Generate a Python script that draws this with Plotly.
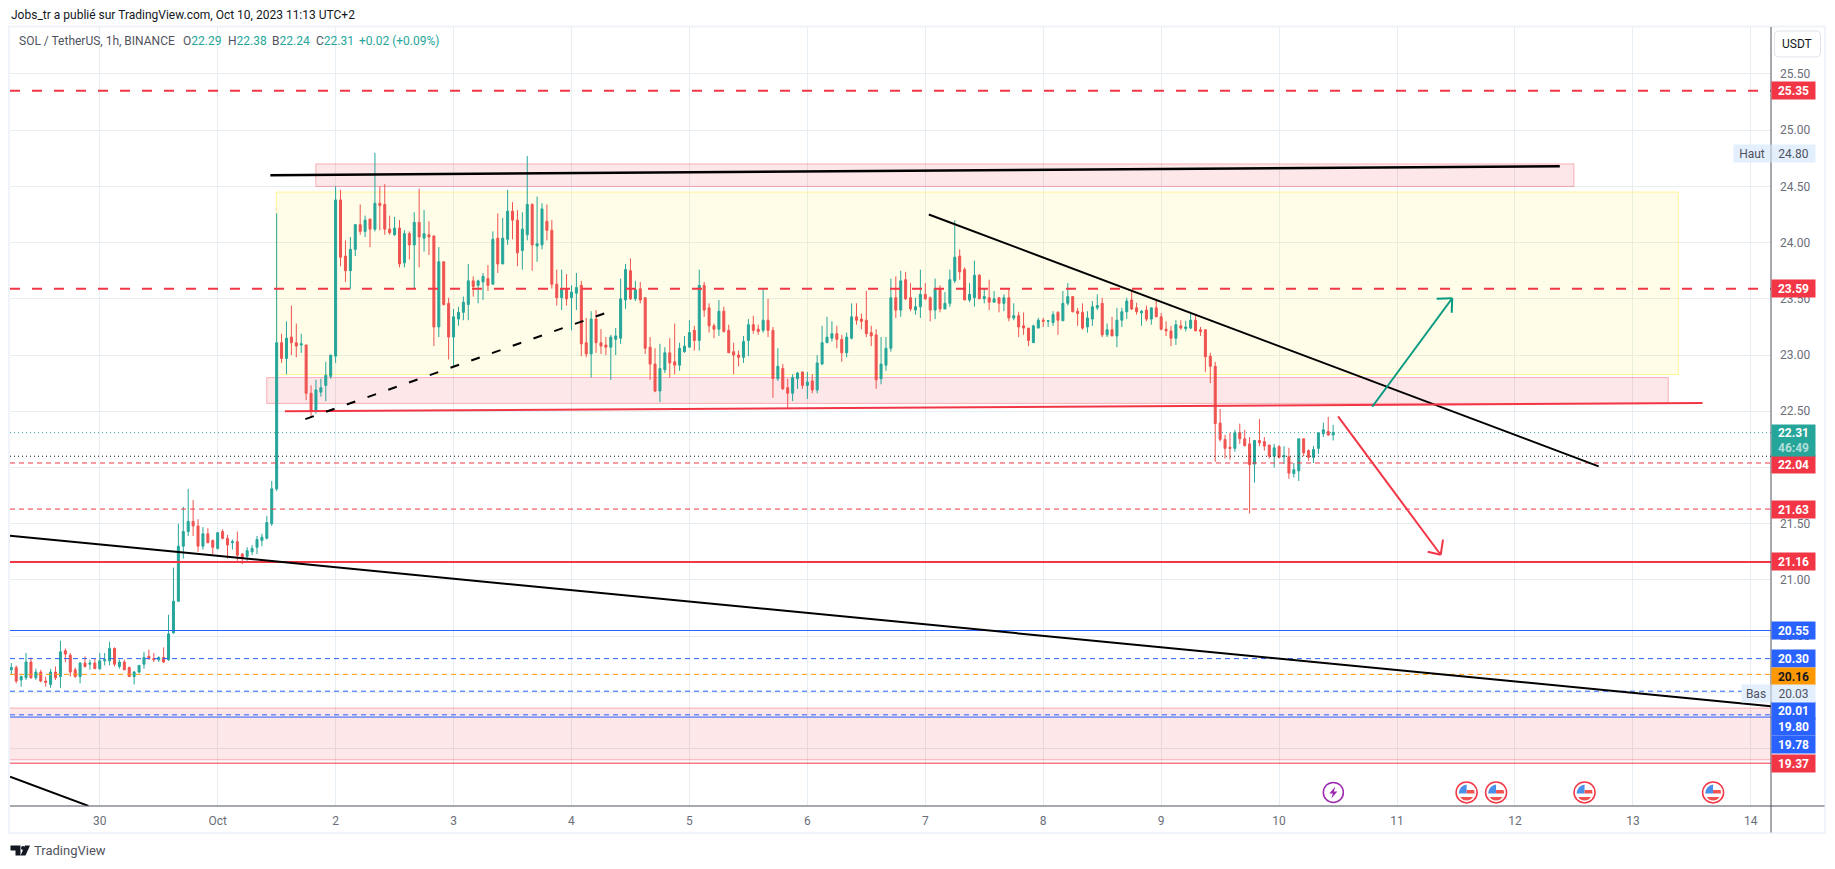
import pandas as pd
import plotly.graph_objects as go

# ---------------------------------------------------------------- data
first_candle = "2023-09-29 06:00"

opens = [
 20.20,20.22,20.11,20.13,20.27,20.13,20.18,20.10,20.07,20.18,
 20.14,20.37,20.33,20.20,20.14,20.26,20.25,20.26,20.21,20.28,
 20.28,20.39,20.23,20.27,20.22,20.14,20.18,20.25,20.32,20.30,
 20.29,20.31,20.29,20.53,20.81,21.30,21.43,21.52,21.48,21.30,
 21.41,21.35,21.28,21.43,21.37,21.33,21.34,21.23,21.21,21.25,
 21.29,21.35,21.37,21.50,21.81,23.11,22.97,23.16,23.11,23.09,
 23.09,22.66,22.51,22.67,22.73,22.81,22.99,24.38,23.88,23.75,
 23.94,24.16,24.10,24.21,24.12,24.35,24.34,24.12,24.07,24.13,
 23.82,24.08,23.98,24.18,24.04,24.07,24.06,23.25,23.83,23.46,
 23.16,23.32,23.38,23.45,23.66,23.62,23.65,23.68,23.63,24.04,
 23.81,24.03,24.28,24.20,23.93,24.07,24.34,23.97,23.98,24.19,
 24.11,23.63,23.51,23.59,23.51,23.55,23.62,23.11,23.01,23.32,
 23.11,23.09,23.07,23.14,23.15,23.49,23.75,23.50,23.59,23.51,
 23.07,22.92,22.68,22.87,23.02,22.94,22.91,23.03,23.07,23.22,
 23.13,23.62,23.42,23.26,23.23,23.39,23.22,23.03,23.00,22.98,
 23.13,23.27,23.23,23.22,23.31,23.22,22.79,22.88,22.71,22.66,
 22.79,22.85,22.73,22.77,22.69,22.92,23.11,23.15,23.19,23.14,
 23.02,23.15,23.34,23.32,23.31,23.20,23.18,22.79,22.91,23.06,
 23.51,23.40,23.67,23.51,23.40,23.43,23.54,23.51,23.40,23.59,
 23.41,23.46,23.66,23.88,23.76,23.49,23.51,23.71,23.50,23.51,
 23.47,23.51,23.46,23.51,23.33,23.35,23.26,23.24,23.11,23.24,
 23.31,23.30,23.29,23.38,23.305,23.46,23.52,23.39,23.38,23.25,
 23.32,23.42,23.46,23.18,23.225,23.17,23.31,23.385,23.49,23.42,
 23.375,23.40,23.32,23.42,23.34,23.23,23.215,23.15,23.26,23.235,
 23.24,23.31,23.225,23.225,22.99,22.90,22.395,22.25,22.18,22.17,
 22.31,22.255,22.21,22.03,22.24,22.23,22.20,22.10,22.185,22.095,
 22.095,21.945,21.97,22.255,22.15,22.09,22.17,22.30,22.32,22.29]

highs = [
 20.26,20.24,20.15,20.35,20.31,20.21,20.20,20.14,20.21,20.23,
 20.46,20.39,20.35,20.22,20.27,20.32,20.29,20.30,20.35,20.35,
 20.45,20.40,20.29,20.29,20.23,20.19,20.24,20.36,20.38,20.35,
 20.32,20.40,20.69,21.11,21.50,21.65,21.81,21.71,21.54,21.47,
 21.46,21.36,21.42,21.45,21.40,21.36,21.43,21.24,21.29,21.31,
 21.39,21.41,21.57,21.88,24.26,23.19,23.30,23.44,23.28,23.19,
 23.09,22.73,22.78,22.79,22.94,23.00,24.50,24.47,24.02,24.05,
 24.16,24.34,24.24,24.21,24.80,24.50,24.52,24.24,24.23,24.20,
 24.11,24.10,24.27,24.48,24.29,24.19,24.06,23.96,23.83,23.51,
 23.41,23.43,23.52,23.81,23.70,23.67,23.73,23.80,24.10,24.26,
 24.22,24.47,24.36,24.29,24.27,24.77,24.35,24.41,24.35,24.34,
 24.20,23.76,23.76,23.72,23.62,23.73,23.66,23.33,23.39,23.40,
 23.23,23.16,23.18,23.24,23.68,23.81,23.86,23.66,23.65,23.51,
 23.16,23.06,23.10,23.07,23.15,23.28,23.11,23.17,23.31,23.26,
 23.76,23.65,23.46,23.28,23.49,23.43,23.27,23.11,23.04,23.17,
 23.32,23.35,23.27,23.59,23.50,23.25,23.06,22.92,22.79,22.83,
 22.85,22.85,22.85,22.83,23.00,23.26,23.34,23.30,23.26,23.18,
 23.20,23.46,23.46,23.37,23.57,23.26,23.23,23.16,23.16,23.68,
 23.70,23.75,23.74,23.64,23.51,23.76,23.64,23.52,23.68,23.62,
 23.56,23.76,24.20,23.94,23.78,23.64,23.84,23.72,23.59,23.67,
 23.57,23.51,23.54,23.59,23.46,23.385,23.38,23.24,23.27,23.33,
 23.33,23.31,23.39,23.39,23.57,23.64,23.52,23.42,23.46,23.39,
 23.48,23.54,23.51,23.28,23.34,23.42,23.42,23.51,23.58,23.465,
 23.40,23.44,23.42,23.49,23.375,23.30,23.26,23.31,23.31,23.305,
 23.385,23.36,23.25,23.225,23.02,22.94,22.52,22.29,22.31,22.335,
 22.39,22.335,22.27,22.24,22.43,22.27,22.20,22.21,22.20,22.19,
 22.175,22.04,22.255,22.255,22.16,22.19,22.31,22.40,22.45,22.38]

lows = [
 20.16,20.08,20.05,20.11,20.12,20.11,20.09,20.05,20.04,20.11,
 20.04,20.27,20.14,20.13,20.08,20.22,20.20,20.21,20.20,20.24,
 20.24,20.23,20.21,20.20,20.14,20.07,20.17,20.21,20.29,20.27,
 20.27,20.26,20.28,20.52,20.81,21.19,21.39,21.39,21.25,21.27,
 21.33,21.23,21.27,21.36,21.19,21.27,21.17,21.14,21.17,21.22,
 21.23,21.30,21.36,21.48,21.79,22.93,22.83,23.00,22.98,23.02,
 22.60,22.44,22.48,22.63,22.59,22.79,22.93,23.79,23.65,23.59,
 23.88,24.07,24.05,23.96,24.10,24.11,24.07,24.07,24.06,23.78,
 23.78,23.85,23.59,23.78,23.92,23.89,23.08,23.16,23.44,22.96,
 22.90,23.26,23.31,23.31,23.52,23.46,23.49,23.57,23.63,23.73,
 23.81,23.98,24.03,23.79,23.76,24.02,23.75,23.83,23.94,24.02,
 23.59,23.44,23.40,23.44,23.22,23.40,22.99,22.98,22.80,23.02,
 23.01,23.00,22.78,23.00,23.10,23.41,23.49,23.48,23.46,23.01,
 22.78,22.67,22.58,22.84,22.80,22.83,22.86,23.02,23.07,23.04,
 23.04,23.34,23.20,23.15,23.17,23.20,23.02,22.83,22.90,22.93,
 22.99,23.19,23.18,23.20,23.16,22.62,22.77,22.69,22.52,22.59,
 22.70,22.70,22.61,22.66,22.66,22.91,23.11,23.12,23.06,22.94,
 22.98,23.14,23.27,23.23,23.16,23.08,22.70,22.74,22.86,23.03,
 23.33,23.34,23.49,23.39,23.36,23.33,23.49,23.30,23.32,23.38,
 23.41,23.43,23.64,23.67,23.49,23.47,23.43,23.50,23.46,23.40,
 23.47,23.38,23.39,23.30,23.31,23.16,23.18,23.08,23.11,23.24,
 23.25,23.25,23.26,23.18,23.305,23.44,23.38,23.26,23.225,23.20,
 23.26,23.40,23.16,23.16,23.17,23.07,23.25,23.32,23.40,23.36,
 23.26,23.30,23.27,23.34,23.22,23.17,23.08,23.09,23.225,23.21,
 23.23,23.215,23.17,22.85,22.75,22.05,22.23,22.08,22.07,22.14,
 22.21,22.185,21.59,21.865,22.19,22.15,22.08,22.00,22.08,22.03,
 21.90,21.91,21.88,22.10,22.06,22.04,22.12,22.27,22.28,22.24]

closes = [
 20.22,20.10,20.14,20.27,20.13,20.18,20.10,20.09,20.18,20.13,
 20.36,20.34,20.18,20.14,20.26,20.23,20.26,20.21,20.28,20.29,
 20.39,20.25,20.27,20.20,20.14,20.18,20.24,20.31,20.30,20.29,
 20.31,20.27,20.52,20.81,21.30,21.43,21.52,21.48,21.30,21.41,
 21.33,21.29,21.42,21.37,21.31,21.34,21.22,21.20,21.26,21.28,
 21.36,21.38,21.51,21.81,23.11,22.97,23.15,23.11,23.08,23.10,
 22.66,22.51,22.69,22.71,22.82,23.00,24.38,23.87,23.75,23.94,
 24.16,24.10,24.20,24.12,24.35,24.33,24.12,24.09,24.13,23.81,
 24.08,23.98,24.18,24.05,24.08,24.05,23.25,23.83,23.45,23.16,
 23.34,23.38,23.47,23.66,23.61,23.66,23.70,23.62,24.03,23.81,
 24.04,24.28,24.20,23.91,24.12,24.34,23.98,23.99,24.30,24.11,
 23.63,23.51,23.59,23.50,23.56,23.60,23.10,23.01,23.32,23.11,
 23.08,23.07,23.16,23.17,23.50,23.76,23.50,23.58,23.49,23.06,
 22.92,22.68,22.88,23.02,22.93,22.91,23.06,23.08,23.20,23.13,
 23.62,23.40,23.26,23.23,23.39,23.21,23.02,23.00,22.98,23.12,
 23.27,23.22,23.21,23.31,23.22,22.79,22.90,22.70,22.66,22.80,
 22.84,22.73,22.76,22.69,22.93,23.11,23.16,23.19,23.14,23.02,
 23.16,23.34,23.31,23.30,23.19,23.17,22.78,22.92,23.06,23.51,
 23.40,23.66,23.50,23.41,23.43,23.54,23.50,23.40,23.59,23.41,
 23.46,23.67,23.87,23.74,23.49,23.54,23.71,23.50,23.52,23.47,
 23.50,23.46,23.51,23.33,23.35,23.25,23.24,23.13,23.26,23.31,
 23.30,23.305,23.36,23.31,23.46,23.52,23.385,23.37,23.24,23.33,
 23.43,23.44,23.18,23.225,23.17,23.31,23.385,23.48,23.41,23.385,
 23.39,23.32,23.42,23.34,23.23,23.215,23.15,23.27,23.24,23.25,
 23.31,23.215,23.21,22.985,22.90,22.39,22.25,22.17,22.17,22.31,
 22.255,22.195,22.025,22.24,22.22,22.19,22.10,22.175,22.09,22.105,
 21.95,21.98,22.255,22.13,22.09,22.16,22.31,22.335,22.29,22.31]

x_tick_dates = ["2023-09-30","2023-10-01","2023-10-02","2023-10-03","2023-10-04","2023-10-05","2023-10-06",
                "2023-10-07","2023-10-08","2023-10-09","2023-10-10","2023-10-11","2023-10-12","2023-10-13","2023-10-14"]
x_tick_labels = ["30","Oct","2","3","4","5","6","7","8","9","10","11","12","13","14"]
y_ticks = [19.5,20.0,20.5,21.0,21.5,22.0,22.5,23.0,23.5,24.0,24.5,25.0,25.5]
# 19.50 and 20.00 are completely covered by price tags in the original
y_tick_labels = ["","","20.50","21.00","21.50","22.00","22.50","23.00","23.50","24.00","24.50","25.00","25.50"]

red_dash_levels = [25.35, 23.59]
red_thin_dash_levels = [22.04, 21.63]
red_solid_levels = [21.16]
red_thin_solid_levels = [19.37]
blue_solid_levels = [20.55, 19.78]
blue_dash_levels = [20.30, 20.01, 19.80]
orange_dash_levels = [20.16]
last_price = 22.31
prev_level = 22.10

# zones: start day, end day, top price, bottom price (days after 30 Sep)
pink_zones = [(1.832, 12.50, 24.70, 24.50), (1.416, 13.30, 22.80, 22.57), (-0.80, 14.18, 19.86, 19.40)]
yellow_zones = [(1.497, 13.385, 24.45, 22.827)]

# trend drawings: day0, price0, day1, price1
solid_black = [(1.447, 24.60, 12.38, 24.68, 2.5), (7.03, 24.25, 12.71, 22.01, 2),
               (-0.761, 21.393, 14.171, 19.876, 2), (-0.761, 19.25, -0.096, 18.99, 2)]
red_trend = [(1.57, 22.50, 13.59, 22.573)]
dashed_black = [(1.743, 22.43, 4.286, 23.373)]
teal_arrow = [(10.79, 22.54, 11.468, 23.505), (11.336, 23.50, 11.468, 23.505), (11.464, 23.376, 11.468, 23.505)]
red_arrow = [(10.50, 22.454, 11.37, 21.224), (11.39, 21.358, 11.37, 21.224), (11.26, 21.25, 11.37, 21.224)]

bolt_days = [10.46]
flag_days = [11.59, 11.84, 12.59, 13.68]
icon_price = 19.11

# right-hand tags: text, price where the tag sits, background, text colour
tag_prices = [25.35, 23.59, 22.03, 21.63, 21.16, 20.55, 20.30, 20.14, 19.84, 19.70, 19.54, 19.37]
tag_texts = ["25.35","23.59","22.04","21.63","21.16","20.55","20.30","20.16","20.01","19.80","19.78","19.37"]
tag_bgs = ["#f23645","#f23645","#f23645","#f23645","#f23645","#2962ff","#2962ff","#ff9800","#2962ff","#2962ff","#2962ff","#f23645"]
tag_fgs = ["#ffffff"]*7 + ["#131722"] + ["#ffffff"]*4

high_tag = ("Haut", "24.80", 24.795)
low_tag = ("Bas", "20.03", 19.99)

title_text = "Jobs_tr a publié sur TradingView.com, Oct 10, 2023 11:13 UTC+2"
symbol_text = "SOL / TetherUS, 1h, BINANCE"
ohlc_items = [("O","22.29"),("H","22.38"),("B","22.24"),("C","22.31")]
change_text = "+0.02 (+0.09%)"

# ---------------------------------------------------------------- style
UP, DOWN = "#26a69a", "#ef5350"
RED, BLUE, ORANGE = "#f23645", "#2962ff", "#ff9800"
TEAL_ARROW = "#089981"
GRID = "#e6edf3"
AXIS = "#50535e"
TXT = "#6a6d78"
FONT = "Roboto, sans-serif"

W, H = 1835, 869
L, R, T, B = 9.5, 1771.5, 27.0, 806.5

def px(v): return (v - L) / (R - L)
def py(v): return (B - v) / (B - T)

base = pd.Timestamp("2023-09-30")
def day(d): return base + pd.Timedelta(days=d)

times = pd.date_range(first_candle, periods=len(opens), freq="h")

fig = go.Figure(go.Candlestick(
    x=times, open=opens, high=highs, low=lows, close=closes,
    increasing=dict(line=dict(color=UP, width=1), fillcolor=UP),
    decreasing=dict(line=dict(color=DOWN, width=1), fillcolor=DOWN),
    whiskerwidth=0, showlegend=False, hoverinfo="skip"))

shapes = []

def hline(y, color, width, dash="solid"):
    shapes.append(dict(type="line", xref="paper", yref="y", x0=0, x1=1, y0=y, y1=y, layer="above",
                       line=dict(color=color, width=width, dash=dash)))

def seg(d0, p0, d1, p1, color, width, dash="solid"):
    shapes.append(dict(type="line", xref="x", yref="y", x0=day(d0), x1=day(d1), y0=p0, y1=p1, layer="above",
                       line=dict(color=color, width=width, dash=dash)))

for d0, d1, top, bot in yellow_zones:
    shapes.append(dict(type="rect", xref="x", yref="y", x0=day(d0), x1=day(d1), y0=bot, y1=top, layer="between",
                       fillcolor="rgba(255,235,59,0.12)", line=dict(color="rgba(255,235,59,0.5)", width=1)))
for d0, d1, top, bot in pink_zones:
    shapes.append(dict(type="rect", xref="x", yref="y", x0=day(d0), x1=day(d1), y0=bot, y1=top, layer="between",
                       fillcolor="rgba(242,54,69,0.12)", line=dict(color="rgba(242,54,69,0.35)", width=1)))

for y in red_dash_levels: hline(y, RED, 2, "10px,12px")
for y in red_thin_dash_levels: hline(y, RED, 1, "5px,4px")
for y in red_solid_levels: hline(y, RED, 2)
for y in red_thin_solid_levels: hline(y, RED, 1)
for y in blue_solid_levels: hline(y, BLUE, 1)
for y in blue_dash_levels: hline(y, BLUE, 1, "5px,4px")
for y in orange_dash_levels: hline(y, ORANGE, 1, "5px,4px")
hline(last_price, UP, 1, "1px,3px")
hline(prev_level, "#131722", 1, "1px,3px")

for d0, p0, d1, p1, w in solid_black: seg(d0, p0, d1, p1, "#000000", w)
for d0, p0, d1, p1 in red_trend: seg(d0, p0, d1, p1, RED, 2)
for d0, p0, d1, p1 in dashed_black: seg(d0, p0, d1, p1, "#000000", 2, "9px,13px")
for d0, p0, d1, p1 in teal_arrow: seg(d0, p0, d1, p1, TEAL_ARROW, 2)
for d0, p0, d1, p1 in red_arrow: seg(d0, p0, d1, p1, RED, 2)

# axis lines and frame
shapes += [
    dict(type="rect", xref="paper", yref="paper", x0=px(8.5), x1=px(1825.5), y0=py(833.5), y1=py(26.5),
         line=dict(color="#f0f3fa", width=2), layer="above"),
    dict(type="line", xref="paper", yref="paper", x0=1, x1=1, y0=py(27), y1=py(833),
         line=dict(color=AXIS, width=1), layer="above"),
    dict(type="line", xref="paper", yref="paper", x0=px(9.5), x1=px(1825), y0=0, y1=0,
         line=dict(color=AXIS, width=1), layer="above"),
]

# rounded currency button
bx0, bx1, by0, by1, br = 1775, 1821, 31, 57, 4
shapes.append(dict(type="path", xref="paper", yref="paper", fillcolor="#ffffff", layer="above",
                   line=dict(color="#e0e3eb", width=1),
                   path=(f"M {px(bx0+br)},{py(by0)} L {px(bx1-br)},{py(by0)} Q {px(bx1)},{py(by0)} {px(bx1)},{py(by0+br)} "
                         f"L {px(bx1)},{py(by1-br)} Q {px(bx1)},{py(by1)} {px(bx1-br)},{py(by1)} "
                         f"L {px(bx0+br)},{py(by1)} Q {px(bx0)},{py(by1)} {px(bx0)},{py(by1-br)} "
                         f"L {px(bx0)},{py(by0+br)} Q {px(bx0)},{py(by0)} {px(bx0+br)},{py(by0)} Z")))

def icon(d, kind, **kw):
    base_shape = dict(xref="x", yref="y", xsizemode="pixel", ysizemode="pixel",
                      xanchor=day(d), yanchor=icon_price, layer="above")
    base_shape.update(kw)
    base_shape["type"] = kind
    shapes.append(base_shape)

for d in flag_days:
    icon(d, "circle", x0=-10.5, x1=10.5, y0=-10.5, y1=10.5, fillcolor="#ffffff", line=dict(color=RED, width=1.5))
    icon(d, "path", path="M -8,-1 L 0,-1 L 0,8 Q -7,7 -8,-1 Z", fillcolor="#4a90e8", line=dict(width=0))
    icon(d, "path", path="M 0,2.5 L 7.5,2.5 L 8,-1 L 0,-1 Z", fillcolor="#ef5350", line=dict(width=0))
    icon(d, "path", path="M -6.5,-4.5 L 6.5,-4.5 Q 4,-8 0,-8 Q -4,-8 -6.5,-4.5 Z", fillcolor="#ef5350", line=dict(width=0))
for d in bolt_days:
    icon(d, "circle", x0=-10, x1=10, y0=-10, y1=10, fillcolor="#ffffff", line=dict(color="#9c27b0", width=1.5))
    icon(d, "path", path="M 2,6 L -4,-1 L -0.5,-1 L -2,-6 L 4,1 L 0.5,1 Z", fillcolor="#9c27b0", line=dict(width=0))

# TradingView mark
shapes += [
    dict(type="path", xref="paper", yref="paper", fillcolor="#131722", line=dict(width=0), layer="above",
         path=f"M {px(10)},{py(846)} L {px(20)},{py(846)} L {px(20)},{py(856)} L {px(15)},{py(856)} L {px(15)},{py(851)} L {px(10)},{py(851)} Z"),
    dict(type="circle", xref="paper", yref="paper", fillcolor="#131722", line=dict(width=0), layer="above",
         x0=px(20.5), x1=px(24.5), y0=py(850.5), y1=py(846.5)),
    dict(type="path", xref="paper", yref="paper", fillcolor="#131722", line=dict(width=0), layer="above",
         path=f"M {px(24.5)},{py(846)} L {px(29.5)},{py(846)} L {px(25)},{py(856)} L {px(20)},{py(856)} Z"),
]

ann = []
def paper_text(xp, yp, text, color, size, anchor="left"):
    ann.append(dict(xref="paper", yref="paper", x=px(xp - 1.5), y=py(yp), text=text, showarrow=False,
                    xanchor=anchor, yanchor="middle", font=dict(family=FONT, size=size, color=color)))

paper_text(10, 15, title_text, "#131722", 12)
paper_text(18, 41.5, symbol_text, AXIS, 12)
for xp, (k, v) in zip([182, 227, 271, 315], ohlc_items):
    paper_text(xp, 41.5, f'{k}<span style="color:{UP}">{v}</span>', AXIS, 12)
paper_text(358.5, 41.5, change_text, UP, 12)
paper_text(33, 851, "TradingView", AXIS, 13)

def tag(y, text, bg, fg, bold=True, height=15):
    ann.append(dict(xref="paper", yref="y", x=1, y=y, xanchor="left", yanchor="middle", showarrow=False,
                    text=f"<b>{text}</b>" if bold else text, bgcolor=bg, width=41, height=height, borderpad=1,
                    align="center", font=dict(family=FONT, size=12, color=fg)))

for y, t, bg, fg in zip(tag_prices, tag_texts, tag_bgs, tag_fgs):
    tag(y, t, bg, fg)

for (word, val, y), shift_w in ((high_tag, 34), (low_tag, 26)):
    tag(y, val, "#e3effd", "#50535e", bold=False)
    ann.append(dict(xref="paper", yref="y", x=1, y=y, xanchor="right", yanchor="middle", showarrow=False,
                    text=word, bgcolor="#e3effd", width=shift_w, height=15, borderpad=1, align="center",
                    font=dict(family=FONT, size=12, color="#50535e")))

# last-price tag with the countdown
ann.append(dict(xref="paper", yref="y", x=1, y=22.24, xanchor="left", yanchor="middle", showarrow=False,
                text='<b>22.31</b><br><b><span style="color:#b2dfdb">46:49</span></b>', bgcolor=UP, width=41, height=29,
                borderpad=1, align="center", font=dict(family=FONT, size=12, color="#ffffff")))

# currency button label
ann.append(dict(xref="paper", yref="paper", x=px(1798), y=py(44), xanchor="center", yanchor="middle", showarrow=False,
                text="USDT", font=dict(family=FONT, size=12, color="#131722")))

fig.update_layout(
    width=W, height=H, margin=dict(l=L, r=W - R, t=T, b=H - B, pad=0),
    paper_bgcolor="#ffffff", plot_bgcolor="#ffffff", showlegend=False, hovermode=False, boxgap=0.42,
    font=dict(family=FONT, size=12, color=TXT),
    shapes=shapes, annotations=ann,
    xaxis=dict(type="date", range=[day(-0.761), day(14.171)], rangeslider=dict(visible=False),
               tickmode="array", tickvals=x_tick_dates, ticktext=x_tick_labels, ticks="",
               showgrid=True, gridcolor=GRID, gridwidth=1, zeroline=False, showline=False,
               tickfont=dict(family=FONT, size=12, color=TXT), ticklabelstandoff=6),
    yaxis=dict(side="right", range=[18.989, 25.918], tickmode="array", tickvals=y_ticks, ticktext=y_tick_labels,
               ticks="", showgrid=True, gridcolor=GRID, gridwidth=1, zeroline=False,
               showline=False, tickfont=dict(family=FONT, size=12, color=TXT), ticklabelstandoff=8),
)

fig.write_html("out.html", post_script="document.body.style.margin='0';document.body.style.overflow='hidden';",
               config=dict(displayModeBar=False))
